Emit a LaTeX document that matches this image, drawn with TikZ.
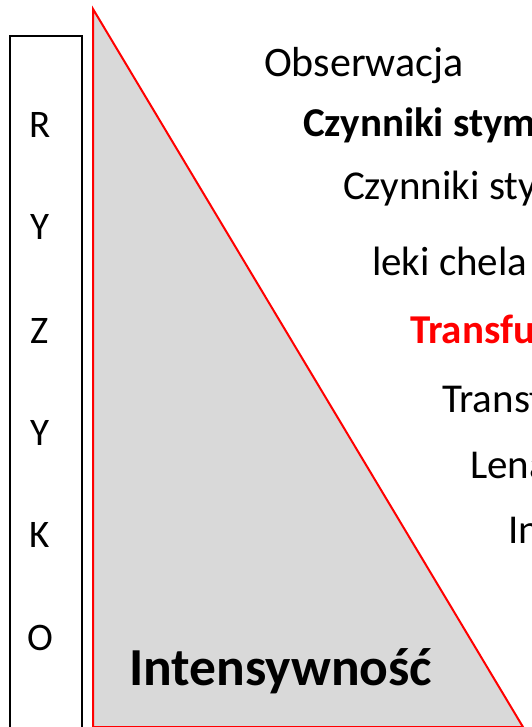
\documentclass[tikz,border=0pt]{standalone}
\usepackage{fontspec}
\setmainfont{Carlito}
\usetikzlibrary{positioning}

\begin{document}
\begin{tikzpicture}[x=1pt,y=-1pt]\tikzset{every node/.style={inner sep=0pt,outer sep=0pt}, letter/.style={anchor=base,font=\fontsize{39}{43}\selectfont}, item/.style={anchor=base west,font=\fontsize{41}{45}\selectfont}, itembold/.style={item,font=\fontsize{41}{45}\selectfont\bfseries}, wedge/.style={draw=red,line width=2pt,fill=black!15}}
	\useasboundingbox (0,0) rectangle (531,727);
	% risk column
	\draw[line width=1.5pt] (10,745) -- (10,36) -- (82,36) -- (82,745);
	\node[letter] (r) at (40,138) {R};
	\node[letter] (y1) at (40,240) {Y};
	\node[letter] (z) at (40,343) {Z};
	\node[letter] (y2) at (40,445) {Y};
	\node[letter] (k) at (40,547) {K};
	\node[letter] (o) at (40,650) {O};
	% intensity wedge
	\coordinate (top) at (93,9);
	\coordinate (bl) at (93,727);
	\coordinate (br) at (523,727);
	\draw[wedge] (top) -- (br) -- (bl) -- cycle;
	\node[anchor=base west,font=\fontsize{53.5}{57}\selectfont\bfseries] (intens) at (129,685) {Intensywność};
	% treatment list
	\node[item,font=\fontsize{42}{46}\selectfont] (obs) at (264,77) {Obserwacja};
	\node[itembold] (csb) at (303,137) {Czynniki stym};
	\node[item] (cs) at (343,200) {Czynniki sty};
	\node[item] (leki) at (372,275) {leki chela};
	\node[itembold,text=red] (transf) at (410,343) {Transfuz};
	\node[item] (trans) at (442,412) {Transf};
	\node[item] (lena) at (470,478) {Lenal};
	\node[item] (in) at (508,543) {In};
\end{tikzpicture}
\end{document}
